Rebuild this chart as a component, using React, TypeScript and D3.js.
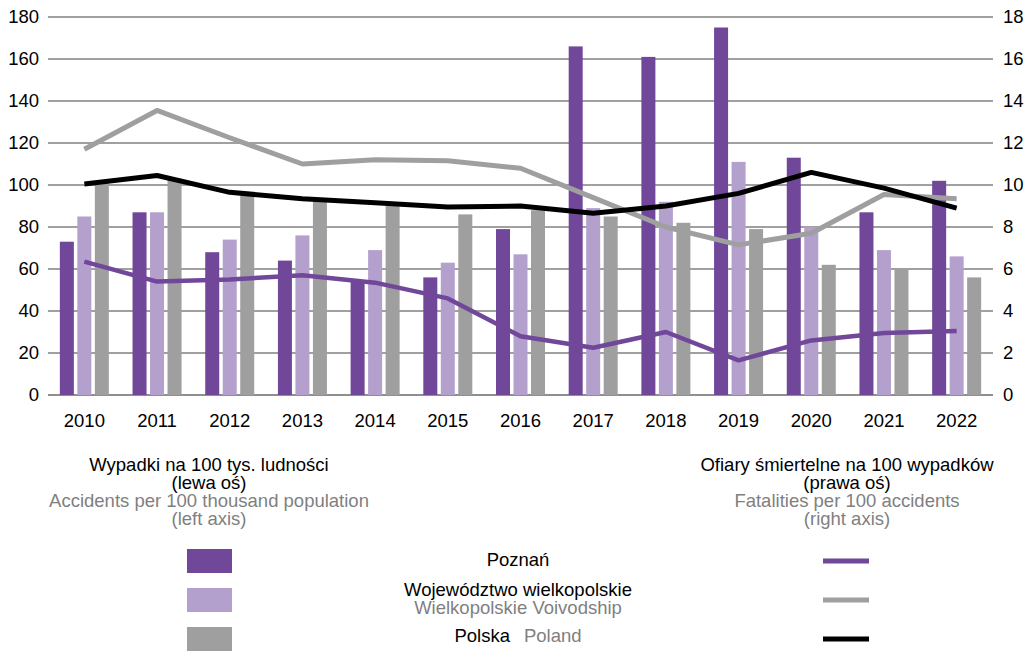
import * as d3 from "d3";
import { useEffect } from "react";

const years = ["2010", "2011", "2012", "2013", "2014", "2015", "2016", "2017", "2018", "2019", "2020", "2021", "2022"];

// accidents per 100k population (left axis)
const accPoznan = [73, 87, 68, 64, 54, 56, 79, 166, 161, 175, 113, 87, 102];
const accWlkp = [85, 87, 74, 76, 69, 63, 67, 89, 92, 111, 80, 69, 66];
const accPolska = [101, 103, 95, 92, 90, 86, 88, 85, 82, 79, 62, 60, 56];

// fatalities per 100 accidents (right axis)
const fatPoznan = [6.35, 5.4, 5.5, 5.7, 5.35, 4.6, 2.8, 2.25, 3.0, 1.65, 2.6, 2.95, 3.05];
const fatWlkp = [11.7, 13.55, 12.25, 11.0, 11.2, 11.15, 10.8, 9.4, 8.0, 7.15, 7.7, 9.55, 9.35];
const fatPolska = [10.05, 10.45, 9.65, 9.35, 9.15, 8.95, 9.0, 8.65, 9.0, 9.6, 10.6, 9.85, 8.9];

const leftTicks = [0, 20, 40, 60, 80, 100, 120, 140, 160, 180];
const rightTicks = [0, 2, 4, 6, 8, 10, 12, 14, 16, 18];

const PURPLE = "#71479a";
const LILAC = "#b3a0cd";
const GREY = "#9f9f9f";
const TEXT_GREY = "#7f7f7f";
const FONT = "Liberation Sans, Arial, sans-serif";
const FS = 18.5;

export default function App() {
  useEffect(() => {
    document.body.style.margin = "0";
  }, []);

  const W = 1034;
  const H = 651;
  const left = 48;
  const right = 993;
  const top = 17;
  const bottom = 395;

  const x = d3.scaleBand<string>().domain(years).range([left, right]);
  const yL = d3.scaleLinear().domain([0, 180]).range([bottom, top]);
  const yR = d3.scaleLinear().domain([0, 18]).range([bottom, top]);

  const barSeries = [
    { key: "poz", values: accPoznan, color: PURPLE },
    { key: "wlkp", values: accWlkp, color: LILAC },
    { key: "pl", values: accPolska, color: GREY },
  ];
  const inner = d3
    .scaleBand<string>()
    .domain(barSeries.map((s) => s.key))
    .range([-24.5, 24.5])
    .paddingInner(0.2);

  const cx = (yr: string) => (x(yr) ?? 0) + x.bandwidth() / 2;

  const lineSeries = [
    { key: "poz", values: fatPoznan, color: PURPLE, w: 4.5 },
    { key: "wlkp", values: fatWlkp, color: GREY, w: 5 },
    { key: "pl", values: fatPolska, color: "#000000", w: 5 },
  ];
  const line = d3
    .line<number>()
    .x((_d, i) => cx(years[i]))
    .y((d) => yR(d));

  const legendRows = [
    { y: 561, color: PURPLE },
    { y: 600, color: LILAC },
    { y: 639, color: GREY },
  ];
  const legendLines = [PURPLE, GREY, "#000000"];

  return (
    <svg width={W} height={H} style={{ display: "block" }} fontFamily={FONT}>
      {leftTicks.map((t) => (
        <line key={t} x1={left} x2={right} y1={yL(t)} y2={yL(t)} stroke={t === 0 ? "#6a6a6a" : "#808080"} strokeWidth={1.4} />
      ))}

      {barSeries.map((s) =>
        s.values.map((v, i) => (
          <rect
            key={s.key + i}
            x={cx(years[i]) + (inner(s.key) ?? 0)}
            y={yL(v)}
            width={inner.bandwidth()}
            height={bottom - yL(v)}
            fill={s.color}
          />
        ))
      )}

      {lineSeries.map((s) => (
        <path key={s.key} d={line(s.values) ?? ""} fill="none" stroke={s.color} strokeWidth={s.w} strokeLinejoin="round" />
      ))}

      {leftTicks.map((t) => (
        <text key={"l" + t} x={39} y={yL(t)} dy="0.35em" textAnchor="end" fontSize={FS} fill="#000">
          {t}
        </text>
      ))}
      {rightTicks.map((t) => (
        <text key={"r" + t} x={1003} y={yR(t)} dy="0.35em" textAnchor="start" fontSize={FS} fill="#000">
          {t}
        </text>
      ))}
      {years.map((yr) => (
        <text key={yr} x={cx(yr)} y={427} textAnchor="middle" fontSize={FS} fill="#000">
          {yr}
        </text>
      ))}

      <g fontSize={FS} textAnchor="middle">
        <text x={209} y={471} fill="#000">Wypadki na 100 tys. ludności</text>
        <text x={209} y={489} fill="#000">(lewa oś)</text>
        <text x={209} y={507} fill={TEXT_GREY}>Accidents per 100 thousand population</text>
        <text x={209} y={525} fill={TEXT_GREY}>(left axis)</text>

        <text x={847} y={471} fill="#000">Ofiary śmiertelne na 100 wypadków</text>
        <text x={847} y={489} fill="#000">(prawa oś)</text>
        <text x={847} y={507} fill={TEXT_GREY}>Fatalities per 100 accidents</text>
        <text x={847} y={525} fill={TEXT_GREY}>(right axis)</text>

        <text x={518} y={566} fill="#000">Poznań</text>
        <text x={518} y={596} fill="#000">Województwo wielkopolskie</text>
        <text x={518} y={614} fill={TEXT_GREY}>Wielkopolskie Voivodship</text>
        <text x={518} y={642}>
          <tspan fill="#000">Polska</tspan>
          <tspan fill={TEXT_GREY} dx={14}>Poland</tspan>
        </text>
      </g>

      {legendRows.map((r) => (
        <rect key={r.y} x={187} y={r.y - 12} width={45} height={24} fill={r.color} />
      ))}
      {legendLines.map((c, i) => (
        <line key={c} x1={823} x2={869} y1={legendRows[i].y} y2={legendRows[i].y} stroke={c} strokeWidth={5} />
      ))}
    </svg>
  );
}
